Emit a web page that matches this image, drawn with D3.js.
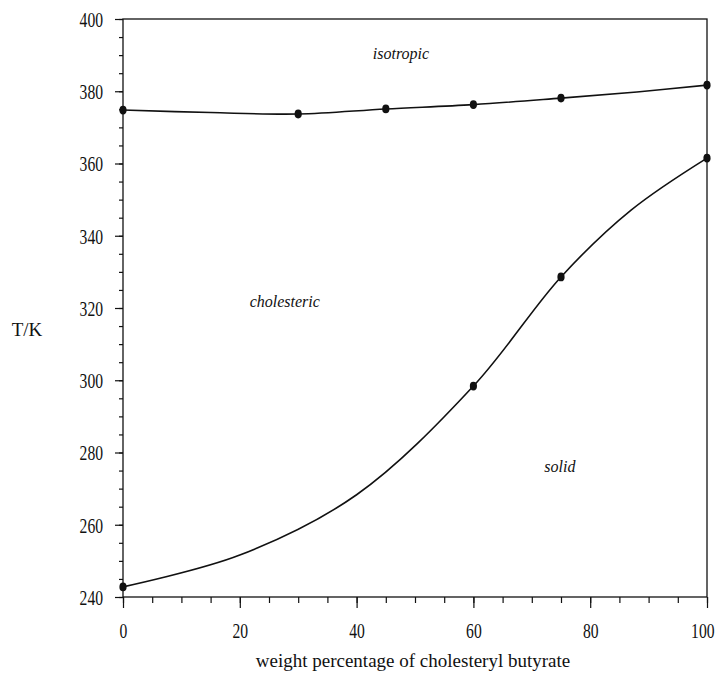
<!DOCTYPE html>
<html>
<head>
<meta charset="utf-8">
<script src="https://cdn.jsdelivr.net/npm/d3@7"></script>
<style>
  body { margin: 0; background: #fff; }
  text { font-family: "Liberation Serif", "DejaVu Serif", serif; fill: #111; }
</style>
</head>
<body>
<script>
// measured points (weight % , T/K)
const clearingPts = [[0, 374.8], [30, 373.7], [45, 375.1], [60, 376.3], [75, 378.1], [100, 381.7]];
const meltingPts = [[0, 242.8], [60, 298.4], [75, 328.6], [100, 361.5]];

// drawn curves
const clearingCurve = [[0, 374.8], [15, 374.1], [30, 373.7], [45, 375.1], [60, 376.3], [75, 378.1], [88, 379.8], [100, 381.7]];
const meltingCurve = [[0, 242.8], [20, 251.6], [40, 268.3], [60, 298.4], [75, 328.6], [87, 347.1], [100, 361.5]];

const xTicks = [0, 20, 40, 60, 80, 100];
const yTicks = [240, 260, 280, 300, 320, 340, 360, 380, 400];

const regionLabels = [
  { text: "isotropic", x: 47.6, y: 388.9 },
  { text: "cholesteric", x: 27.7, y: 320.3 },
  { text: "solid", x: 74.8, y: 274.6 }
];

const width = 719, height = 678;
const m = { left: 123, right: 707, top: 19, bottom: 597 };

const x = d3.scaleLinear().domain([0, 100]).range([m.left, m.right]);
const y = d3.scaleLinear().domain([240, 400]).range([m.bottom, m.top]);

const svg = d3.select("body").append("svg")
  .attr("width", width)
  .attr("height", height);

// frame
svg.append("rect")
  .attr("x", m.left).attr("y", m.top)
  .attr("width", m.right - m.left).attr("height", m.bottom - m.top)
  .attr("fill", "none").attr("stroke", "#111").attr("stroke-width", 1.3);

// tick labels in the scan are tall and narrow
const squeeze = sel => sel
  .attr("font-size", 21)
  .attr("textLength", function () { return this.textContent.length * 7.8; })
  .attr("lengthAdjust", "spacingAndGlyphs");

// x axis
const xAxis = svg.append("g").attr("transform", `translate(0,${m.bottom})`);
xAxis.append("g").call(d3.axisBottom(x).tickValues(d3.range(0, 101, 5)).tickSize(6).tickFormat(""));
xAxis.append("g").call(d3.axisBottom(x).tickValues(xTicks).tickSize(11).tickFormat(d3.format("d")));
xAxis.selectAll(".domain").remove();
xAxis.selectAll("line").attr("stroke", "#111").attr("stroke-width", 1.2);
xAxis.selectAll("text").attr("y", 41).attr("dy", 0).call(squeeze);
// keep the last label inside the page
xAxis.selectAll("text").filter(d => d === 100).attr("text-anchor", "end").attr("x", 7);

// y axis
const yAxis = svg.append("g").attr("transform", `translate(${m.left},0)`);
yAxis.append("g").call(d3.axisLeft(y).tickValues(d3.range(240, 401, 5)).tickSize(4).tickFormat(""));
yAxis.append("g").call(d3.axisLeft(y).tickValues(yTicks).tickSize(8).tickPadding(12).tickFormat(d3.format("d")));
yAxis.selectAll(".domain").remove();
yAxis.selectAll("line").attr("stroke", "#111").attr("stroke-width", 1.2);
yAxis.selectAll("text").attr("dy", "0.35em").call(squeeze);

// curves
const line = d3.line()
  .x(d => x(d[0]))
  .y(d => y(d[1]))
  .curve(d3.curveCatmullRom.alpha(0.5));

[clearingCurve, meltingCurve].forEach(c => {
  svg.append("path")
    .attr("d", line(c))
    .attr("fill", "none")
    .attr("stroke", "#111")
    .attr("stroke-width", 1.6);
});

// markers
svg.append("g").selectAll("ellipse")
  .data(clearingPts.concat(meltingPts))
  .join("ellipse")
  .attr("cx", d => x(d[0]))
  .attr("cy", d => y(d[1]))
  .attr("rx", 3.6)
  .attr("ry", 4.4)
  .attr("fill", "#111");

// phase labels
svg.append("g").selectAll("text")
  .data(regionLabels)
  .join("text")
  .attr("x", d => x(d.x))
  .attr("y", d => y(d.y))
  .attr("text-anchor", "middle")
  .attr("font-style", "italic")
  .attr("font-size", 16)
  .text(d => d.text);

// axis titles
svg.append("text")
  .attr("x", 27).attr("y", 336)
  .attr("text-anchor", "middle")
  .attr("font-size", 19)
  .text("T/K");

svg.append("text")
  .attr("x", 413).attr("y", 667)
  .attr("text-anchor", "middle")
  .attr("font-size", 19)
  .text("weight percentage of cholesteryl butyrate");
</script>
</body>
</html>
